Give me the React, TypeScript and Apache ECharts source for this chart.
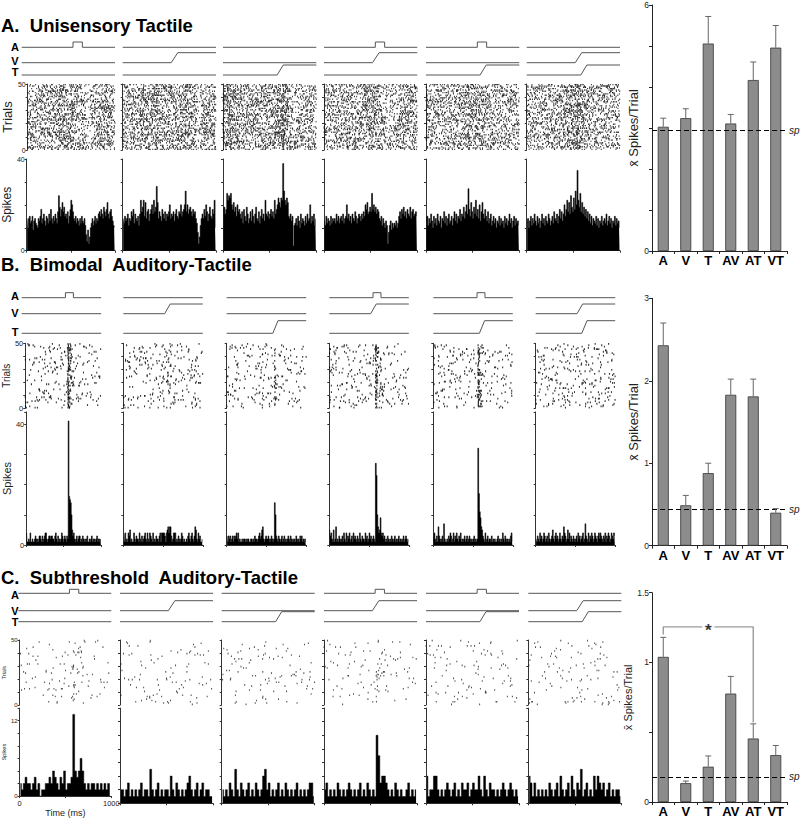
import React, { useEffect, useRef } from 'react';
import * as echarts from 'echarts';

const CONDITIONS = ['A', 'V', 'T', 'AV', 'AT', 'VT'];
const STIM_LETTERS = ['A', 'V', 'T'];
const ROW_TITLES = ['A.  Unisensory Tactile', 'B.  Bimodal  Auditory-Tactile', 'C.  Subthreshold  Auditory-Tactile'];

// stimulus schematics: time (ms) and level (0/1)
const A_PULSE_TIME = [0, 550, 550, 650, 650, 1000];
const A_PULSE_LEVEL = [0, 0, 1, 1, 0, 0];
const V_RAMP_TIME = [0, 520, 590, 1000];
const V_RAMP_LEVEL = [0, 0, 1, 1];
const T_RAMP_TIME = [0, 580, 645, 1000];
const T_RAMP_LEVEL = [0, 0, 1, 1];
const FLAT_TIME = [0, 1000];
const FLAT_LEVEL = [0, 0];

// PSTH counts, row A (10 ms bins)
const UNI_A = [14,10,14,15,12,13,15,9,13,14,12,11,10,14,13,15,18,12,14,16,13,11,15,14,12,16,13,18,14,12,15,13,16,14,12,17,24,19,15,18,21,17,19,15,16,14,17,12,15,18,22,20,17,14,13,15,12,14,13,11,14,12,15,13,12,14,11,7,4,9,3,6,10,12,14,11,13,15,12,14,13,16,17,15,18,16,14,19,17,15,18,21,16,14,17,18,15,13,11,10];
const UNI_V = [14,12,15,13,14,16,11,14,13,17,15,18,12,16,14,13,15,11,16,22,17,19,22,15,21,14,17,18,13,16,18,20,16,22,17,19,28,21,14,17,15,13,18,16,14,17,13,16,15,17,20,14,16,15,17,13,16,18,15,14,17,16,20,15,17,18,20,26,17,20,16,18,19,17,15,18,16,17,14,12,8,3,6,11,14,16,14,18,15,20,17,13,16,19,15,14,18,16,22,10];
const UNI_T = [17,19,16,18,25,22,24,23,25,20,18,21,17,19,15,20,17,18,16,14,17,12,18,15,13,19,16,12,14,17,13,18,15,12,16,19,14,13,17,12,15,18,14,16,13,22,16,15,17,14,16,18,15,17,14,22,16,18,20,23,21,19,23,22,38,26,22,20,23,21,15,14,16,13,15,2,11,12,14,11,15,13,10,16,12,14,13,11,15,12,16,13,14,20,12,15,13,16,11,14];
const UNI_AV = [13,11,15,12,14,13,11,15,12,14,13,14,12,16,13,15,12,14,15,13,16,12,14,15,20,14,16,13,15,12,16,14,13,17,15,12,14,16,15,13,16,14,17,15,20,18,21,16,17,19,17,25,18,20,17,19,16,18,17,14,13,15,11,14,12,10,13,11,3,8,11,13,9,12,10,12,11,13,10,12,15,17,14,18,16,19,15,17,14,18,16,15,19,14,17,18,15,16,17,15];
const UNI_AT = [13,15,11,14,12,16,13,10,15,12,14,11,16,13,12,15,10,14,13,17,12,15,11,14,16,12,13,15,11,14,17,13,16,12,15,14,18,13,16,15,19,14,17,20,16,27,18,15,21,17,14,19,16,22,15,18,14,20,13,17,21,16,14,18,15,13,17,12,14,16,11,13,15,12,14,10,13,12,15,11,14,12,13,10,15,12,14,11,13,16,12,14,10,13,15,11,14,12,13,11];
const UNI_VT = [12,14,10,13,15,11,14,12,16,13,11,15,12,14,10,13,16,12,14,11,15,13,12,16,14,11,13,15,12,17,14,13,16,12,15,18,14,17,13,16,20,15,18,22,17,21,16,24,19,17,23,18,26,20,35,22,19,25,17,21,16,19,15,18,14,17,13,16,12,15,11,14,13,12,15,11,14,10,13,12,15,11,13,14,12,16,11,13,15,12,14,10,13,12,15,11,14,12,13,10];

// PSTH counts, row B (10 ms bins)
const BIM_A = [4,1,1,2,1,4,1,1,2,1,1,2,3,2,1,2,1,3,3,2,1,3,1,2,3,4,4,2,1,2,3,3,2,3,3,2,2,1,3,4,2,1,3,1,2,1,2,4,3,1,2,3,2,1,3,2,41,16,15,14,10,5,3,4,2,1,2,3,1,2,3,3,1,2,1,3,2,1,2,1,2,3,1,1,2,1,2,3,1,2,1,2,1,2,3,1,2,2,1,2];
const BIM_V = [1,1,4,1,2,1,4,3,5,1,2,1,1,4,2,1,3,2,2,1,4,2,1,3,1,2,3,4,2,1,4,2,1,4,3,2,1,4,1,2,1,3,2,2,1,3,4,1,4,4,4,4,3,1,4,5,6,4,6,6,3,1,2,4,4,4,1,2,1,3,2,1,2,4,3,1,2,1,1,2,1,3,4,2,1,3,4,2,1,3,6,5,2,1,4,2,3,1,1,2];
const BIM_T = [3,1,3,2,3,1,2,3,1,3,2,3,4,2,4,1,2,1,1,2,1,2,2,1,2,1,2,2,1,1,2,2,1,2,1,3,2,2,1,2,3,4,2,3,5,6,2,1,2,3,2,2,3,2,1,2,3,2,1,2,14,10,3,2,1,3,2,1,2,3,1,2,3,1,2,1,2,3,2,1,3,2,1,2,1,2,1,3,2,1,2,1,3,2,3,1,2,1,2,1];
const BIM_AV = [5,3,4,2,1,5,1,2,6,1,2,1,3,2,1,2,3,1,4,2,1,4,1,3,2,4,1,2,3,1,4,2,3,2,1,3,2,1,4,2,1,3,2,2,1,4,2,3,1,2,4,2,3,1,2,3,2,1,27,23,10,6,4,5,9,4,3,4,2,3,1,2,1,3,2,1,2,1,3,2,1,2,3,1,2,1,2,3,1,2,1,2,1,3,1,2,3,2,1,2];
const BIM_AT = [1,4,2,1,3,1,6,3,2,1,2,3,1,7,2,1,1,2,1,3,2,4,3,1,2,4,1,3,2,4,2,1,3,2,4,1,2,1,2,3,1,2,3,1,2,3,2,1,2,1,2,3,1,2,1,2,32,17,11,9,6,5,3,2,1,4,1,2,3,1,2,2,1,3,1,2,1,2,1,1,2,3,1,2,1,2,1,4,2,1,3,2,1,2,1,2,1,3,4,1];
const BIM_VT = [2,1,3,2,1,4,2,3,1,2,4,3,1,2,3,1,4,2,1,2,3,5,2,1,3,4,2,3,1,2,4,2,1,3,2,6,4,3,1,2,5,2,4,1,3,2,1,3,2,1,2,3,1,4,2,3,1,2,3,4,1,2,7,3,2,1,4,1,3,2,4,3,1,2,4,3,2,1,3,4,2,4,3,2,1,3,2,4,1,3,2,4,3,1,2,4,3,2,4,3];

// PSTH counts, row C (20 ms bins)
const SUB_A = [2,1,2,3,2,2,1,2,3,1,2,0,1,1,2,2,3,2,4,3,2,1,3,2,4,1,2,2,3,13,4,3,4,6,4,2,1,2,1,2,2,1,2,1,2,1,2,1,2,0];
const SUB_V = [2,2,1,2,3,1,2,1,2,1,2,3,1,2,2,1,5,2,1,2,3,1,2,1,2,2,1,4,2,1,3,2,1,2,1,2,3,4,2,1,2,3,1,2,3,1,2,2,1,1];
const SUB_T = [2,1,2,1,3,2,1,5,2,1,3,2,1,2,3,1,2,1,3,2,1,2,4,5,2,3,1,2,1,2,3,1,2,1,3,2,1,2,1,2,3,1,2,1,2,1,2,3,3,1];
const SUB_AV = [2,3,1,2,1,2,1,3,2,1,2,1,2,3,2,1,2,1,2,3,1,2,1,3,2,1,2,1,10,7,3,4,4,3,2,1,2,1,3,2,1,2,1,1,2,3,1,2,1,2];
const SUB_AT = [4,1,2,2,4,4,2,1,2,1,2,3,2,1,2,3,1,2,1,3,2,2,3,1,2,3,2,2,4,2,1,4,2,1,3,2,2,1,2,1,2,3,2,1,2,3,2,1,2,1];
const SUB_VT = [4,3,1,3,1,2,1,2,1,2,1,3,2,1,2,3,1,4,2,1,2,3,1,4,2,1,3,2,5,1,2,3,1,2,1,4,2,4,3,2,3,1,2,3,1,2,1,2,2,1];

// mean spikes / trial, top of error bar, spontaneous level
const UNI_MEAN = [3.03, 3.24, 5.06, 3.11, 4.17, 4.96];
const UNI_ERR_TOP = [3.24, 3.47, 5.72, 3.33, 4.61, 5.5];
const UNI_SP = 2.94;
const BIM_MEAN = [2.43, 0.49, 0.88, 1.83, 1.81, 0.4];
const BIM_ERR_TOP = [2.7, 0.61, 1.0, 2.02, 2.02, 0.45];
const BIM_SP = 0.44;
const SUB_MEAN = [1.04, 0.135, 0.253, 0.777, 0.455, 0.336];
const SUB_ERR_TOP = [1.18, 0.15, 0.33, 0.9, 0.56, 0.405];
const SUB_SP = 0.18;
const SUB_SIG_BRACKET = [[0, 1.2], [0, 1.255], [4, 1.255], [4, 0.57]];
const SUB_SIG_STAR = [[2, 1.255]];

const PSTH_ROWS = [
  [UNI_A, UNI_V, UNI_T, UNI_AV, UNI_AT, UNI_VT],
  [BIM_A, BIM_V, BIM_T, BIM_AV, BIM_AT, BIM_VT],
  [SUB_A, SUB_V, SUB_T, SUB_AV, SUB_AT, SUB_VT],
];
const BAR_ROWS = [
  { mean: UNI_MEAN, top: UNI_ERR_TOP, sp: UNI_SP },
  { mean: BIM_MEAN, top: BIM_ERR_TOP, sp: BIM_SP },
  { mean: SUB_MEAN, top: SUB_ERR_TOP, sp: SUB_SP },
];

const FONT = 'Liberation Sans';

const LAYOUT = [
  {
    titleTop: 15.5, stim: [[42, 5.3], [52.7, 10], [65, 10]], stimLabelY: [46.5, 60.5, 71.5],
    xs: [21.7, 122.7, 223, 324, 426, 526.7], w: 93.3,
    raster: [84, 150], psth: [159, 250.7], psthMax: 40, psthInt: 10, psthLabels: [0, 40],
    rasterName: 13, psthName: 12, tickFont: 7, dot: [1, 1.4], dotColor: '#000', stepLine: 0.6,
    bar: { top: 5, bottom: 251, max: 6, interval: 1, labels: [0, 6], nameFont: 13, nameGap: 9 },
  },
  {
    titleTop: 254, stim: [[292.7, 5], [304, 9.7], [320.7, 12.6]], stimLabelY: [296, 313, 331.7],
    xs: [21.7, 123.3, 226.7, 329.3, 433.3, 535.7], w: 79.5,
    raster: [343.3, 408.3], psth: [411.9, 545], psthMax: 44, psthInt: 10, psthLabels: [0, 40],
    rasterName: 10, psthName: 11, tickFont: 7.5, dot: [1.1, 1.8], dotColor: '#000', stepLine: 0.6,
    bar: { top: 298.3, bottom: 545.7, max: 3, interval: 1, labels: [0, 1, 2, 3], nameFont: 13, nameGap: 9 },
  },
  {
    titleTop: 567, stim: [[589.3, 4], [600.7, 10], [611.7, 10]], stimLabelY: [594.5, 610.5, 621.5],
    xs: [18.3, 120, 221.7, 324, 426, 528.3], w: 93,
    raster: [640, 705], psth: [708.1, 803.3], psthMax: 14, psthInt: 2, psthLabels: [0, 12],
    rasterName: 5.5, psthName: 5.5, tickFont: 6, dot: [1, 1.6], dotColor: '#222', stepLine: 0.5,
    bar: { top: 592.7, bottom: 803.3, max: 1.5, interval: 0.5, labels: [0, 1, 1.5], nameFont: 11, nameGap: 10 },
  },
];

// every counted spike of a PSTH bin becomes one raster tick; within a bin the
// spikes are dealt to distinct trials by a seeded shuffle (the PSTH fixes the counts)
function spikesFromCounts(counts: number[], panel: number) {
  const nb = counts.length;
  const bw = 1000 / nb;
  const out: number[][] = [];
  counts.forEach((c, b) => {
    let s = (Math.imul(b + 1, 0x9e3779b1) ^ Math.imul(panel + 7, 0x85ebca6b)) >>> 0;
    const next = () => {
      s = (Math.imul(s, 1664525) + 1013904223) >>> 0;
      return s / 4294967296;
    };
    next(); next();
    const trials = Array.from({ length: 50 }, (_, i) => i);
    for (let k = 0; k < c && k < 50; k++) {
      const j = k + Math.floor(next() * (50 - k));
      const tmp = trials[k]; trials[k] = trials[j]; trials[j] = tmp;
      out.push([b * bw + next() * bw, trials[k] + 0.5]);
    }
  });
  return out;
}

function buildOption() {
  const grid: any[] = [];
  const xAxis: any[] = [];
  const yAxis: any[] = [];
  const series: any[] = [];
  const title: any[] = [];
  const graphic: any[] = [];
  const axisLine = { show: true, lineStyle: { color: '#333', width: 1 } };

  const addGrid = (left: number, top: number, width: number, height: number) => {
    grid.push({ left, top, width, height, containLabel: false });
    return grid.length - 1;
  };

  LAYOUT.forEach((L, r) => {
    title.push({
      text: ROW_TITLES[r], left: 1, top: L.titleTop, padding: 0,
      textStyle: { fontSize: 18.5, lineHeight: 20, fontWeight: 'bold', fontFamily: FONT, color: '#000' },
    });
    STIM_LETTERS.forEach((letter, j) => {
      graphic.push({
        type: 'text', x: 15, y: L.stimLabelY[j],
        style: { text: letter, fontSize: 11, fontWeight: 'bold', fontFamily: FONT, fill: '#000', align: 'center', verticalAlign: 'middle' },
      });
    });

    for (let p = 0; p < 6; p++) {
      const x0 = L.xs[p];
      // stimulus traces
      STIM_LETTERS.forEach((letter, j) => {
        const active = CONDITIONS[p].includes(letter);
        const shapes: any = {
          A: [A_PULSE_TIME, A_PULSE_LEVEL],
          V: [V_RAMP_TIME, V_RAMP_LEVEL],
          T: [T_RAMP_TIME, T_RAMP_LEVEL],
        };
        const [ts, ls] = active ? shapes[letter] : [FLAT_TIME, FLAT_LEVEL];
        const gi = addGrid(x0, L.stim[j][0], L.w, L.stim[j][1]);
        xAxis.push({ gridIndex: gi, type: 'value', min: 0, max: 1000, show: false });
        yAxis.push({ gridIndex: gi, type: 'value', min: 0, max: 1, show: false });
        series.push({
          type: 'line', xAxisIndex: xAxis.length - 1, yAxisIndex: yAxis.length - 1,
          data: ts.map((t: number, i: number) => [t, ls[i]]), symbol: 'none', clip: false, silent: true,
          lineStyle: { color: '#555', width: 1 },
        });
      });

      // raster
      {
        const gi = addGrid(x0, L.raster[0], L.w, L.raster[1] - L.raster[0]);
        xAxis.push({ gridIndex: gi, type: 'value', min: 0, max: 1000, show: false });
        yAxis.push({
          gridIndex: gi, type: 'value', min: 0, max: 50, interval: 10,
          axisLine, axisTick: { show: true, length: 2, lineStyle: { color: '#333' } }, splitLine: { show: false },
          axisLabel: {
            show: p === 0, fontSize: L.tickFont, color: '#222', margin: 2, fontFamily: FONT,
            formatter: (v: number) => (v === 0 || v === 50 ? String(v) : ''),
          },
          name: p === 0 ? 'Trials' : '', nameLocation: 'middle', nameGap: 4,
          nameTextStyle: { fontSize: L.rasterName, fontFamily: FONT, color: '#222' },
        });
        series.push({
          type: 'scatter', xAxisIndex: xAxis.length - 1, yAxisIndex: yAxis.length - 1,
          data: spikesFromCounts(PSTH_ROWS[r][p], r * 6 + p), symbol: 'rect', symbolSize: L.dot,
          itemStyle: { color: L.dotColor }, silent: true, progressive: 0, large: false,
        });
      }

      // PSTH (step histogram)
      {
        const counts = PSTH_ROWS[r][p];
        const gi = addGrid(x0, L.psth[0], L.w, L.psth[1] - L.psth[0]);
        xAxis.push({ gridIndex: gi, type: 'category', data: counts.map((_, i) => i), show: false, boundaryGap: true });
        const catIdx = xAxis.length - 1;
        const showTime = r === 2 && p === 0;
        xAxis.push({
          gridIndex: gi, type: 'value', min: 0, max: 1000, interval: 500, position: 'bottom',
          axisLine, axisTick: { show: true, length: 2, lineStyle: { color: '#333' } }, splitLine: { show: false },
          axisLabel: {
            show: showTime, fontSize: 7.5, color: '#222', margin: 3, fontFamily: FONT,
            formatter: (v: number) => (v === 500 ? '' : String(v)),
          },
          name: showTime ? 'Time (ms)' : '', nameLocation: 'middle', nameGap: 8,
          nameTextStyle: { fontSize: 9, fontFamily: FONT, color: '#222' },
        });
        yAxis.push({
          gridIndex: gi, type: 'value', min: 0, max: L.psthMax, interval: L.psthInt,
          axisLine, axisTick: { show: true, length: 2, lineStyle: { color: '#333' } }, splitLine: { show: false },
          axisLabel: {
            show: p === 0, fontSize: L.tickFont, color: '#222', margin: 2, fontFamily: FONT,
            formatter: (v: number) => (L.psthLabels.includes(v) ? String(v) : ''),
          },
          name: p === 0 ? 'Spikes' : '', nameLocation: 'middle', nameGap: 4,
          nameTextStyle: { fontSize: L.psthName, fontFamily: FONT, color: '#222' },
        });
        series.push({
          type: 'line', step: 'middle', xAxisIndex: catIdx, yAxisIndex: yAxis.length - 1, data: counts,
          symbol: 'none', silent: true, lineStyle: { color: '#000', width: L.stepLine },
          areaStyle: { color: '#000', opacity: 1 },
        });
      }
    }

    // summary bar chart
    {
      const B = L.bar;
      const D = BAR_ROWS[r];
      const gi = addGrid(652, B.top, 135, B.bottom - B.top);
      xAxis.push({
        gridIndex: gi, type: 'category', data: CONDITIONS,
        axisLine: { show: true, lineStyle: { color: '#222', width: 1 } },
        axisTick: { show: true, length: 3, lineStyle: { color: '#222' } },
        axisLabel: { fontSize: 13, fontWeight: 'bold', color: '#000', margin: 3, fontFamily: FONT },
      });
      const xi = xAxis.length - 1;
      yAxis.push({
        gridIndex: gi, type: 'value', min: 0, max: B.max, interval: B.interval,
        axisLine: { show: true, lineStyle: { color: '#222', width: 1 } },
        axisTick: { show: true, length: 3, lineStyle: { color: '#222' } }, splitLine: { show: false },
        axisLabel: {
          fontSize: 8.5, color: '#222', margin: 3, fontFamily: FONT,
          formatter: (v: number) => (B.labels.includes(v) ? String(v) : ''),
        },
        name: 'x\u0304 Spikes/Trial', nameLocation: 'middle', nameGap: B.nameGap,
        nameTextStyle: { fontSize: B.nameFont, fontFamily: FONT, color: '#222' },
      });
      const yi = yAxis.length - 1;
      series.push({
        type: 'bar', xAxisIndex: xi, yAxisIndex: yi, data: D.mean, barWidth: 11, silent: true,
        itemStyle: { color: '#8c8c8c', borderColor: '#333', borderWidth: 0.8 },
        markLine: {
          silent: true, symbol: ['none', 'none'], animation: false,
          data: [{ yAxis: D.sp }],
          lineStyle: { color: '#000', type: [5, 3], width: 1.2 },
          label: { show: true, position: 'end', formatter: 'sp', fontStyle: 'italic', fontSize: 10, color: '#222', distance: 2, fontFamily: FONT },
        },
      });
      series.push({
        type: 'custom', xAxisIndex: xi, yAxisIndex: yi, silent: true, z: 5,
        data: D.mean.map((m, i) => [i, m, D.top[i]]),
        encode: { x: 0, y: [1, 2] },
        renderItem: (params: any, api: any) => {
          const a = api.coord([api.value(0), api.value(1)]);
          const b = api.coord([api.value(0), api.value(2)]);
          return {
            type: 'group',
            children: [
              { type: 'line', shape: { x1: a[0], y1: a[1], x2: b[0], y2: b[1] }, style: { stroke: '#666', lineWidth: 1 } },
              { type: 'line', shape: { x1: b[0] - 3, y1: b[1], x2: b[0] + 3, y2: b[1] }, style: { stroke: '#666', lineWidth: 1 } },
            ],
          };
        },
      });
      if (r === 2) {
        series.push({
          type: 'line', xAxisIndex: xi, yAxisIndex: yi, data: SUB_SIG_BRACKET, symbol: 'none', silent: true,
          lineStyle: { color: '#9a9a9a', width: 1.4 }, z: 6,
        });
        series.push({
          type: 'scatter', xAxisIndex: xi, yAxisIndex: yi, data: SUB_SIG_STAR, symbolSize: 0, silent: true, z: 7,
          label: {
            show: true, position: 'inside', formatter: '*', fontSize: 17, fontWeight: 'bold', color: '#000',
            backgroundColor: '#fff', padding: [0, 3], offset: [0, 4], fontFamily: FONT,
          },
        });
      }
    }
  });

  return { animation: false, backgroundColor: '#fff', title, grid, xAxis, yAxis, series, graphic };
}

export default function App() {
  const ref = useRef<HTMLDivElement>(null);
  useEffect(() => {
    if (!ref.current) return;
    const chart = echarts.init(ref.current, undefined, { renderer: 'svg' });
    chart.setOption(buildOption() as any);
    return () => chart.dispose();
  }, []);
  return <div ref={ref} style={{ position: 'fixed', left: 0, top: 0, width: 800, height: 818, background: '#fff' }} />;
}
